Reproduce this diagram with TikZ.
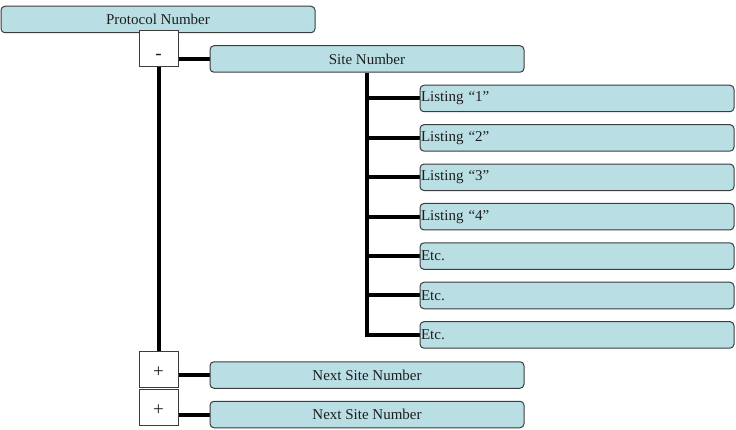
\documentclass[tikz,border=0pt]{standalone}
\usepackage{fontspec}
\setmainfont{Liberation Serif}
\usetikzlibrary{backgrounds}
\definecolor{boxfill}{RGB}{185,223,228}
\definecolor{boxline}{RGB}{60,60,60}
\definecolor{txt}{RGB}{30,30,30}
\begin{document}
\begin{tikzpicture}[x=1pt,y=-1pt,
  bluebox/.style={draw=boxline,line width=1pt,fill=boxfill,rounded corners=4pt,
    minimum width=314pt,minimum height=26.5pt,inner sep=0pt,text=txt,
    font=\fontsize{15}{17}\selectfont},
  leftbox/.style={bluebox,text width=312pt,align=left,inner xsep=1pt},
  signbox/.style={draw=boxline,line width=1pt,fill=white,minimum width=39pt,
    minimum height=36pt,inner sep=0pt,text=txt,font=\fontsize{19}{21}\selectfont,
    text height=10pt,text depth=0pt},
  conn/.style={line width=4pt,black}]
\useasboundingbox (0,0) rectangle (736,430);
\node[bluebox] (proto) at (158,19.5) {Protocol Number};
\node[bluebox] (site) at (367,59) {Site Number};
\node[leftbox] (l1) at (577,98.5) {Listing “1”};
\node[leftbox] (l2) at (577,137.9) {Listing “2”};
\node[leftbox] (l3) at (577,177.3) {Listing “3”};
\node[leftbox] (l4) at (577,216.7) {Listing “4”};
\node[leftbox] (e1) at (577,256.1) {Etc.};
\node[leftbox] (e2) at (577,295.5) {Etc.};
\node[leftbox] (e3) at (577,334.9) {Etc.};
\node[bluebox] (next1) at (367,375) {Next Site Number};
\node[bluebox] (next2) at (367,414.5) {Next Site Number};
\node[signbox] (minus) at (158.5,49) {\raisebox{-6pt}{-}};
\node[signbox] (plus1) at (158.5,369) {\raisebox{-3pt}{+}};
\node[signbox] (plus2) at (158.5,407) {\raisebox{-3pt}{+}};
\begin{scope}[on background layer]
\draw[conn] (minus.south) -- (plus1.north);
\draw[conn] (site.south) -- (site.south |- e3.west) -- (e3.west);
\foreach \n in {l1,l2,l3,l4,e1,e2} \draw[conn] (site.south |- \n.west) -- (\n.west);
\draw[conn] (minus.east |- site.west) -- (site.west);
\draw[conn] (plus1.east |- next1.west) -- (next1.west);
\draw[conn] (plus2.east |- next2.west) -- (next2.west);
\end{scope}
\end{tikzpicture}
\end{document}
